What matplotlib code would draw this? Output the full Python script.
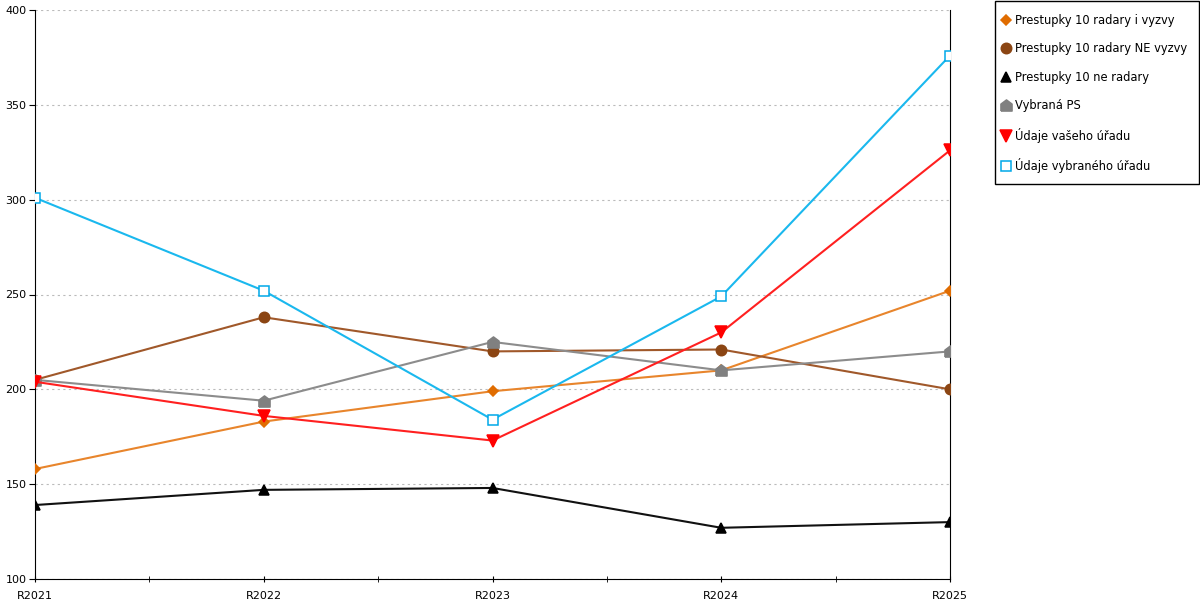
import matplotlib.pyplot as plt
from matplotlib.lines import Line2D
from matplotlib.patches import Rectangle
import numpy as np

years = ['R2021', 'R2022', 'R2023', 'R2024', 'R2025']
radary_vyzvy = [158, 183, 199, 210, 252]
radary_ne_vyzvy = [205, 238, 220, 221, 200]
ne_radary = [139, 147, 148, 127, 130]
vybrana_ps = [205, 194, 225, 210, 220]
vas_urad = [204, 186, 173, 230, 326]
vybrany_urad = [301, 252, 184, 249, 376]

house = [(-1, -1), (1, -1), (1, 0.25), (0, 1), (-1, 0.25), (-1, -1)]

fig = plt.figure(figsize=(12, 6), dpi=100)
ax = fig.add_axes([35/1200, 21/600, 915/1200, 569/600])
x = np.arange(len(years))

styles = [
    (radary_vyzvy, 'Prestupky 10 radary i vyzvy', '#e8852c', 'D', 5.5, '#e06c00', '#e06c00'),
    (radary_ne_vyzvy, 'Prestupky 10 radary NE vyzvy', '#a0582a', 'o', 7.5, '#8b4513', '#8b4513'),
    (ne_radary, 'Prestupky 10 ne radary', '#111111', '^', 7.5, 'black', 'black'),
    (vybrana_ps, 'Vybraná PS', '#8c8c8c', house, 8, '#808080', '#808080'),
    (vas_urad, 'Údaje vašeho úřadu', '#ff2020', 'v', 8, '#ff0000', '#ff0000'),
    (vybrany_urad, 'Údaje vybraného úřadu', '#1ab8ee', 's', 7, 'white', '#00a8e8'),
]

handles = []
for vals, name, lc, m, ms, fc, ec in styles:
    ax.plot(x, vals, color=lc, lw=1.5, marker=m, ms=ms, mfc=fc, mec=ec,
            mew=1.1, zorder=3)
    handles.append(Line2D([], [], linestyle='none', marker=m, ms=ms,
                          mfc=fc, mec=ec, mew=1.1, label=name))

ax.set_xlim(0, 4)
ax.set_ylim(100, 400)
ax.set_yticks([100, 150, 200, 250, 300, 350, 400])
ax.set_xticks(x)
ax.set_xticklabels(years)
ax.set_xticks(np.arange(0.5, 4, 1), minor=True)
ax.tick_params(axis='x', which='both', length=5, direction='inout', labelsize=8, pad=6)
ax.tick_params(axis='y', length=4, direction='out', labelsize=8, pad=2)
ax.grid(axis='y', linestyle=(0, (2, 3)), color='#bbbbbb', lw=0.8)
ax.spines['top'].set_visible(False)
ax.spines['right'].set_color('black')

# legend box drawn separately so its size matches the original
fig.patches.append(Rectangle((995/1200, 1 - 184/600), 204/1200, 183/600,
                             transform=fig.transFigure, fill=False,
                             edgecolor='black', lw=1))
fig.legend(handles=handles, loc='upper left', bbox_to_anchor=(1001/1200, 1 - 14/600),
           fontsize=8.3, frameon=False, handlelength=0.8, handletextpad=0.45,
           labelspacing=1.34, borderpad=0, borderaxespad=0)

fig.savefig('out.png')
